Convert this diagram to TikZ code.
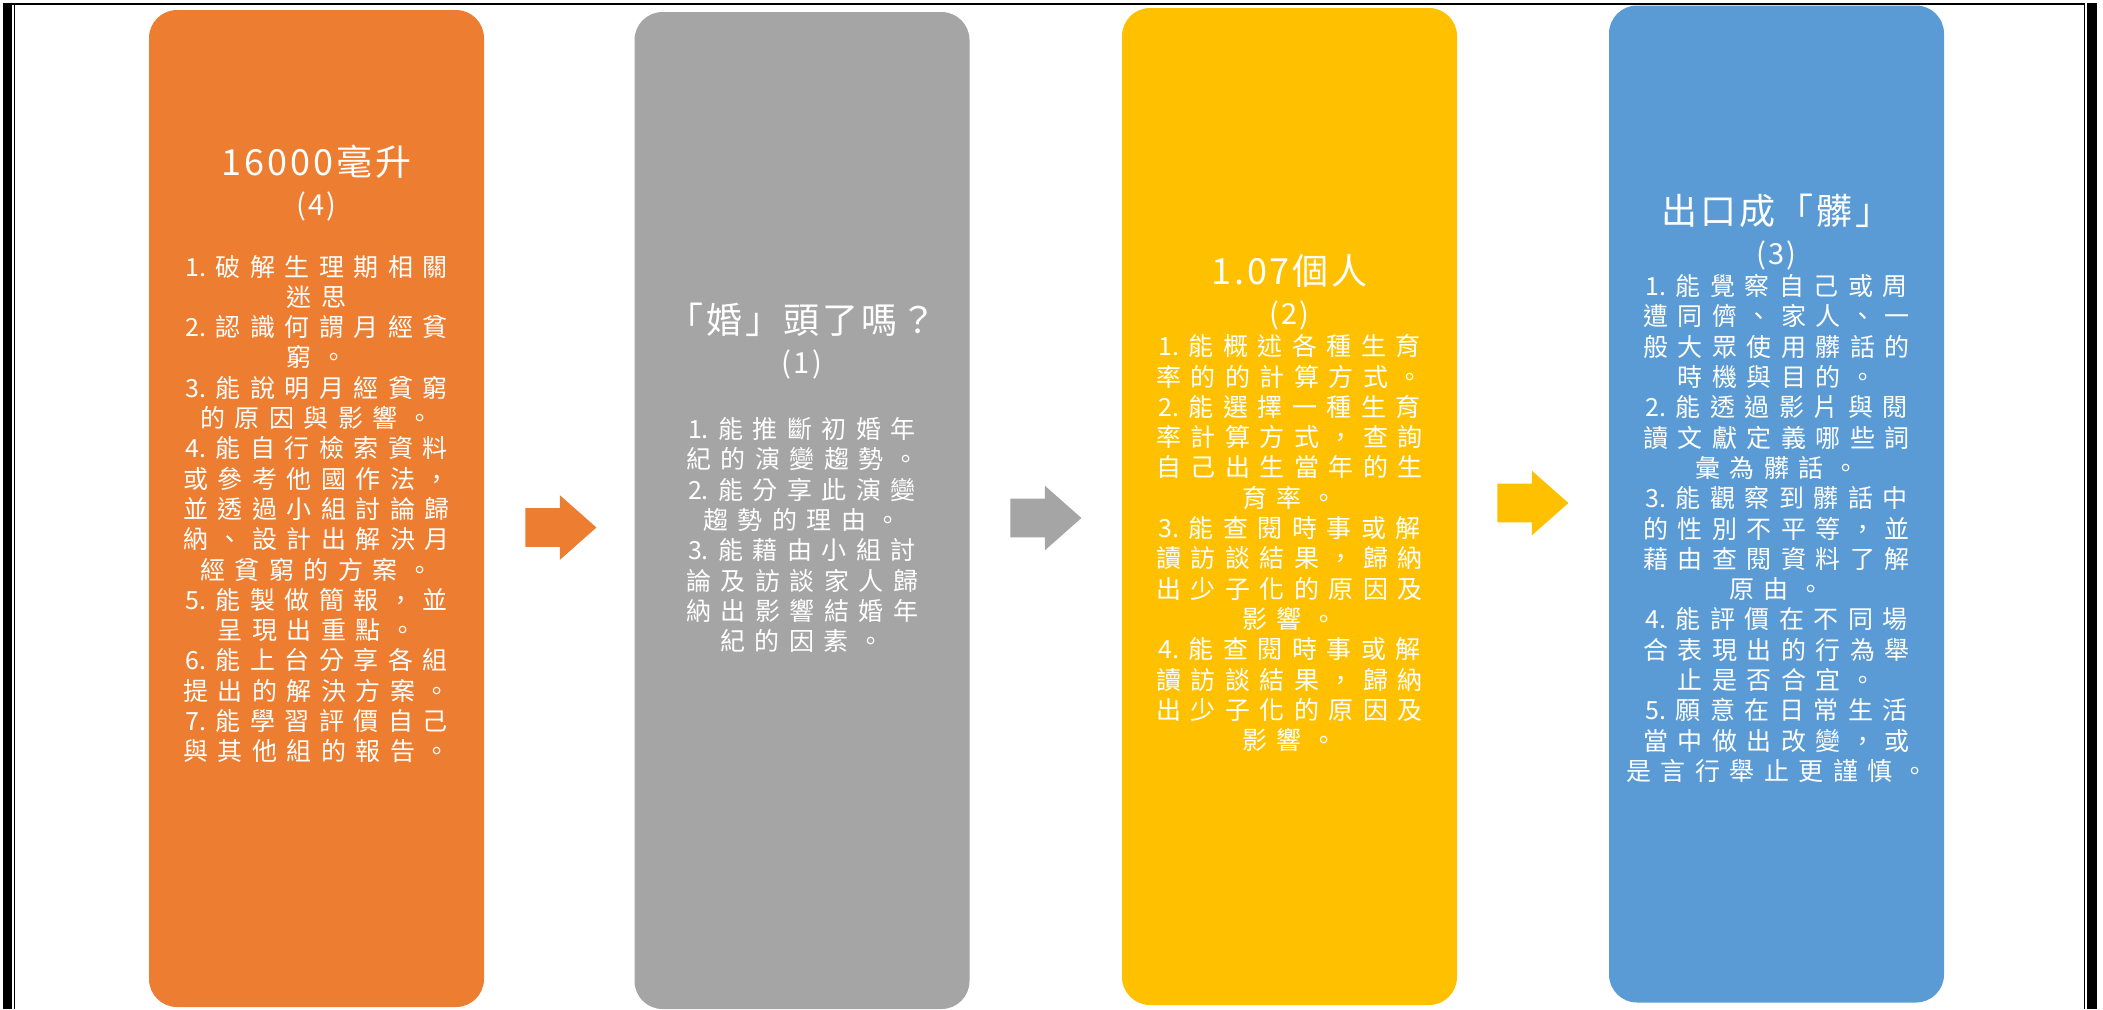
\documentclass[tikz,border=0pt]{standalone}
\usepackage{fontspec}
\usetikzlibrary{shapes.arrows}
\newfontfamily\tcbody[LetterSpace=38]{Noto Sans CJK TC}
\newfontfamily\tctitle[LetterSpace=8]{Noto Sans CJK TC}
\newfontfamily\tcnum{Noto Sans CJK TC}
\newcommand\itemno[1]{{\tcnum#1}.}
\newcommand\cardno[1]{{\fontsize{14.5pt}{20pt}\selectfont(#1)}}
\definecolor{cOrange}{HTML}{ED7D31}
\definecolor{cGray}{HTML}{A5A5A5}
\definecolor{cGold}{HTML}{FFC000}
\definecolor{cBlue}{HTML}{5B9BD5}
\tikzset{
	card/.style={rectangle, rounded corners=14pt, minimum width=167.5pt, minimum height=498.5pt, inner sep=0pt},
	heading/.style={text=white, align=center, font=\tctitle\fontsize{18pt}{20pt}\selectfont},
	goals/.style={text=white, align=center, font=\tcbody\fontsize{12.5pt}{15.15pt}\selectfont},
	flow/.style={single arrow, anchor=tail, single arrow head extend=6.5pt, single arrow tip angle=83, minimum height=35.5pt, inner xsep=0pt, inner ysep=9.5pt}
}

\begin{document}
\begin{tikzpicture}[x=0.5pt,y=-0.5pt]
		\useasboundingbox (0,0) rectangle (2103,1009);
		% page frame
		\fill (3,3) rectangle (12,1009);
		\fill (2087,3) rectangle (2097,1009);
		\draw[line width=0.7pt] (3,3.8) -- (2085,3.8);
		\draw[line width=0.7pt] (14.5,3.8) -- (14.5,1009);
		\draw[line width=0.7pt] (2084.5,3.8) -- (2084.5,1009);

		% cards
		\draw (316.5,508.5) node [card, fill=cOrange] (c4){};
		\draw (802,510.5) node [card, fill=cGray] (c1){};
		\draw (1289.5,506.5) node [card, fill=cGold] (c2){};
		\draw (1776.5,504) node [card, fill=cBlue] (c3){};

		% arrows between cards
		\draw (525,527.5) node [flow, fill=cOrange] (a41){};
		\draw (1010,518) node [flow, fill=cGray] (a12){};
		\draw (1497,503) node [flow, fill=cGold] (a23){};

		% headings
		\draw (316.5,183.5) node [heading] (t4){16000毫升\\\cardno{4}};
		\draw (802,341) node [heading] (t1){「婚」頭了嗎？\\\cardno{1}};
		\draw (1289.5,292) node [heading] (t2){1.07個人\\\cardno{2}};
		\draw (1776.5,232) node [heading] (t3){出口成「髒」\\\cardno{3}};

		% goals
		\draw (316.5,509) node [goals] (g4){\itemno{1}破解生理期相關\\迷思\\\itemno{2}認識何謂月經貧\\窮。\\\itemno{3}能說明月經貧窮\\的原因與影響。\\\itemno{4}能自行檢索資料\\或參考他國作法，\\並透過小組討論歸\\納、設計出解決月\\經貧窮的方案。\\\itemno{5}能製做簡報，並\\呈現出重點。\\\itemno{6}能上台分享各組\\提出的解決方案。\\\itemno{7}能學習評價自己\\與其他組的報告。};
		\draw (802,535) node [goals] (g1){\itemno{1}能推斷初婚年\\紀的演變趨勢。\\\itemno{2}能分享此演變\\趨勢的理由。\\\itemno{3}能藉由小組討\\論及訪談家人歸\\納出影響結婚年\\紀的因素。};
		\draw (1289.5,543) node [goals] (g2){\itemno{1}能概述各種生育\\率的的計算方式。\\\itemno{2}能選擇一種生育\\率計算方式，查詢\\自己出生當年的生\\育率。\\\itemno{3}能查閱時事或解\\讀訪談結果，歸納\\出少子化的原因及\\影響。\\\itemno{4}能查閱時事或解\\讀訪談結果，歸納\\出少子化的原因及\\影響。};
		\draw (1776.5,528.5) node [goals] (g3){\itemno{1}能覺察自己或周\\遭同儕、家人、一\\般大眾使用髒話的\\時機與目的。\\\itemno{2}能透過影片與閱\\讀文獻定義哪些詞\\彙為髒話。\\\itemno{3}能觀察到髒話中\\的性別不平等，並\\藉由查閱資料了解\\原由。\\\itemno{4}能評價在不同場\\合表現出的行為舉\\止是否合宜。\\\itemno{5}願意在日常生活\\當中做出改變，或\\是言行舉止更謹慎。};
	\end{tikzpicture}
\end{document}
